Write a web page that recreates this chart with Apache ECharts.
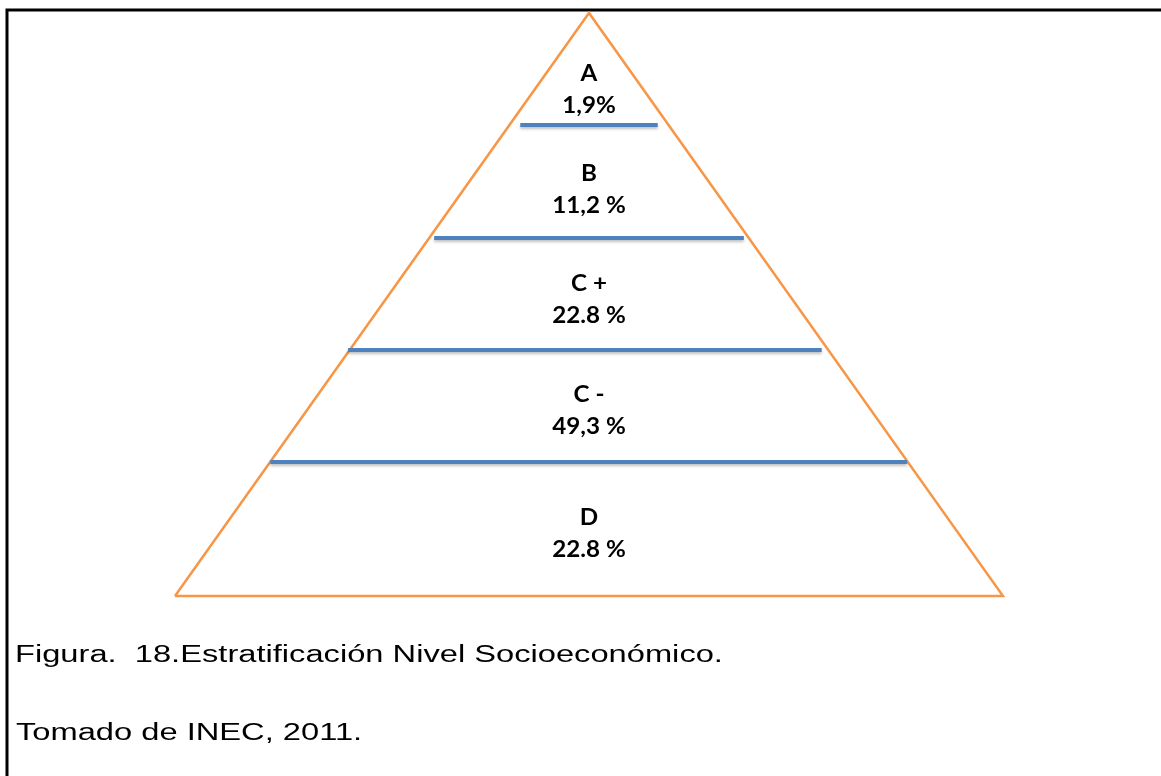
<!DOCTYPE html>
<html>
<head>
<meta charset="utf-8">
<title>Estratificación Nivel Socioeconómico</title>
<script src="https://cdn.jsdelivr.net/npm/echarts@6/dist/echarts.min.js"></script>
<style>
  html, body { margin: 0; padding: 0; background: #ffffff; }
  #chart { width: 1161px; height: 776px; }
</style>
</head>
<body>
<div id="chart"></div>
<script>
// Socioeconomic strata, top of the pyramid first
const strata = ['A', 'B', 'C +', 'C -', 'D'];
const shares = [1.9, 11.2, 22.8, 49.3, 22.8];
const decimalMarks = [',', ',', '.', ',', '.'];
const percentGaps = ['', ' ', ' ', ' ', ' '];

// Divider heights (percent of pyramid height, bottom to top) and their horizontal spans
const dividerLevels = [23.0, 42.2, 61.5, 80.8];
const dividerSpans = [[11.5, 88.4], [20.9, 78.1], [31.3, 68.7], [41.7, 58.3]];

const captionText = 'Figura.  18.Estratificación Nivel Socioeconómico.';
const sourceText = 'Tomado de INEC, 2011.';

// Outline of the pyramid: base corners and apex
const outline = [[0, 0], [50, 100], [100, 0], [0, 0]];

function shareText(i) {
  return shares[i].toFixed(1).replace('.', decimalMarks[i]) + percentGaps[i] + '%';
}

// Width of the pyramid at a given height (same units as x axis)
function widthAt(h) { return 100 - h; }

// Label anchor at the centroid of each band
const edges = [0].concat(dividerLevels, [100]);
const labelPoints = strata.map(function (name, i) {
  const band = strata.length - 1 - i;
  const h0 = edges[band], h1 = edges[band + 1];
  const wb = widthAt(h0), wt = widthAt(h1);
  const yc = h0 + (h1 - h0) * (wb + 2 * wt) / (3 * (wb + wt));
  return [50, yc, i];
});

const dividerData = dividerLevels.map(function (lv, i) {
  return { coords: [[dividerSpans[i][0], lv], [dividerSpans[i][1], lv]] };
});

const chart = echarts.init(document.getElementById('chart'), null, { renderer: 'canvas' });

chart.setOption({
  backgroundColor: '#ffffff',
  animation: false,
  grid: { left: 175, right: 158, top: 13, bottom: 180 },
  xAxis: { type: 'value', min: 0, max: 100, show: false },
  yAxis: { type: 'value', min: 0, max: 100, show: false },
  graphic: [
    {
      type: 'polyline',
      shape: { points: [[7, 776], [7, 10], [1161, 10]] },
      style: { stroke: '#000000', lineWidth: 3, fill: null }
    },
    {
      type: 'text',
      x: 15, y: 656,
      scaleX: 1.42,
      style: {
        text: captionText,
        font: '23px "Liberation Sans", Arial, sans-serif',
        fill: '#000000',
        verticalAlign: 'middle'
      }
    },
    {
      type: 'text',
      x: 16, y: 734,
      scaleX: 1.42,
      style: {
        text: sourceText,
        font: '23px "Liberation Sans", Arial, sans-serif',
        fill: '#000000',
        verticalAlign: 'middle'
      }
    }
  ],
  series: [
    {
      type: 'line',
      data: outline,
      symbol: 'none',
      clip: false,
      silent: true,
      lineStyle: { color: '#F79646', width: 2.5, join: 'miter' },
      z: 2
    },
    {
      type: 'lines',
      coordinateSystem: 'cartesian2d',
      data: dividerData,
      silent: true,
      lineStyle: {
        color: '#4F81BD',
        width: 4,
        opacity: 1,
        curveness: 0,
        shadowColor: 'rgba(0,0,0,0.25)',
        shadowBlur: 3,
        shadowOffsetY: 2
      },
      z: 3
    },
    {
      type: 'custom',
      data: labelPoints,
      silent: true,
      clip: false,
      renderItem: function (params, api) {
        const p = api.coord([api.value(0), api.value(1)]);
        const i = api.value(2);
        return {
          type: 'text',
          x: p[0],
          y: p[1] + 2,
          scaleX: 1.1,
          style: {
            text: strata[i] + '\n' + shareText(i),
            font: 'bold 22px Lato, "Open Sans", sans-serif',
            fill: '#000000',
            align: 'center',
            verticalAlign: 'middle',
            lineHeight: 32
          }
        };
      },
      z: 4
    }
  ]
});
</script>
</body>
</html>
